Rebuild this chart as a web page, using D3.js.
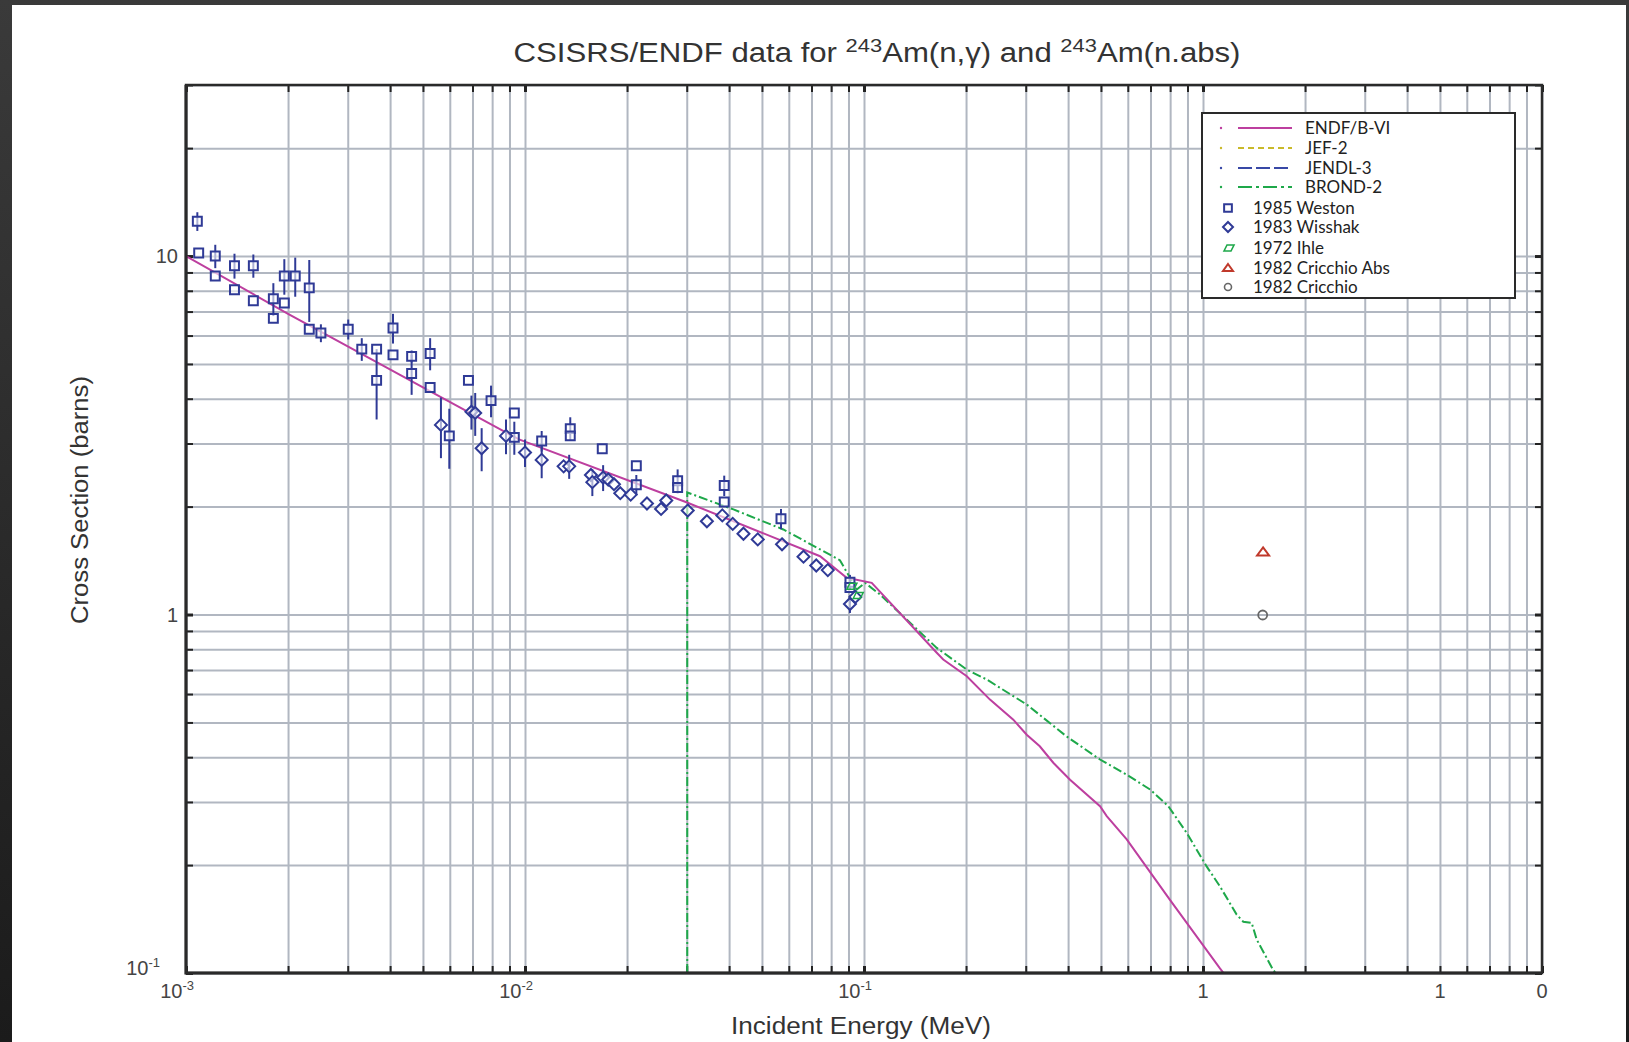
<!DOCTYPE html>
<html>
<head>
<meta charset="utf-8">
<script src="https://cdn.jsdelivr.net/npm/d3@7"></script>
<style>
  body { margin: 0; background: #2b2b2b; }
  svg { display: block; }
</style>
</head>
<body>
<div id="chart"></div>
<script>
// evaluated curves (energy in MeV, cross section in barns)
const endfE  = [0.001, 0.002, 0.003, 0.005, 0.0096, 0.0298, 0.0742, 0.0889, 0.1054, 0.1639, 0.1713, 0.201, 0.2353, 0.2757, 0.302, 0.330, 0.3617, 0.4053, 0.4968, 0.52, 0.5957, 0.799, 1.122, 1.15];
const endfXS = [10.0, 6.9, 5.6, 4.3, 3.08, 2.06, 1.454, 1.266, 1.226, 0.782, 0.749, 0.673, 0.579, 0.509, 0.462, 0.429, 0.386, 0.346, 0.292, 0.274, 0.236, 0.160, 0.103, 0.1];

const brondE  = [0.0301, 0.0301, 0.0412, 0.0578, 0.0849, 0.0952, 0.1007, 0.1115, 0.1639, 0.201, 0.230, 0.302, 0.396, 0.4968, 0.5957, 0.698, 0.790, 0.895, 1.026, 1.122, 1.257, 1.315, 1.392, 1.44, 1.61, 1.64];
const brondXS = [0.1, 2.19, 1.964, 1.727, 1.418, 1.174, 1.226, 1.137, 0.807, 0.702, 0.659, 0.561, 0.457, 0.394, 0.3575, 0.325, 0.292, 0.246, 0.198, 0.1744, 0.1455, 0.139, 0.138, 0.124, 0.102, 0.1];

// measurements
const westonE   = [1.08e-3, 1.09e-3, 1.22e-3, 1.22e-3, 1.39e-3, 1.39e-3, 1.58e-3, 1.58e-3, 1.81e-3, 1.81e-3, 1.95e-3, 1.95e-3, 2.10e-3, 2.31e-3, 2.31e-3, 2.50e-3, 3.01e-3, 3.30e-3, 3.65e-3, 3.65e-3, 4.08e-3, 4.08e-3, 4.63e-3, 4.63e-3, 5.25e-3, 5.25e-3, 5.98e-3, 6.81e-3, 7.94e-3, 9.3e-3, 9.3e-3, 1.12e-2, 1.36e-2, 1.36e-2, 1.69e-2, 2.13e-2, 2.13e-2, 2.82e-2, 2.82e-2, 3.87e-2, 3.87e-2, 5.69e-2, 9.09e-2, 9.09e-2];
const westonXS  = [12.5, 10.2, 10.0, 8.8, 9.4, 8.05, 9.4, 7.5, 7.6, 6.7, 8.8, 7.4, 8.8, 8.15, 6.25, 6.1, 6.25, 5.5, 5.5, 4.5, 6.3, 5.3, 5.25, 4.7, 5.35, 4.3, 3.15, 4.5, 3.95, 3.65, 3.12, 3.05, 3.3, 3.15, 2.9, 2.6, 2.3, 2.36, 2.26, 2.29, 2.06, 1.85, 1.23, 1.19];
const westonErr = [0.75, 0, 0.75, 0, 0.75, 0, 0.7, 0, 0.8, 0, 1.0, 0, 1.1, 1.6, 0, 0.35, 0.4, 0.4, 0, 1.0, 0.6, 0, 0.2, 0.6, 0.55, 0, 0.6, 0, 0.4, 0, 0.33, 0.2, 0.25, 0, 0, 0, 0.15, 0.18, 0, 0.15, 0, 0.12, 0.06, 0];

const wisshakE   = [5.65e-3, 6.95e-3, 7.13e-3, 7.45e-3, 8.79e-3, 1.0e-2, 1.12e-2, 1.30e-2, 1.35e-2, 1.565e-2, 1.58e-2, 1.70e-2, 1.76e-2, 1.83e-2, 1.91e-2, 2.05e-2, 2.29e-2, 2.52e-2, 2.61e-2, 3.02e-2, 3.44e-2, 3.82e-2, 4.10e-2, 4.41e-2, 4.86e-2, 5.73e-2, 6.63e-2, 7.23e-2, 7.82e-2, 9.09e-2, 9.43e-2];
const wisshakXS  = [3.38, 3.68, 3.65, 2.91, 3.15, 2.83, 2.70, 2.59, 2.59, 2.45, 2.34, 2.41, 2.38, 2.31, 2.18, 2.16, 2.04, 1.97, 2.08, 1.95, 1.82, 1.89, 1.79, 1.68, 1.62, 1.57, 1.45, 1.37, 1.33, 1.07, 1.12];
const wisshakErr = [0.65, 0.4, 0.5, 0.4, 0.35, 0.25, 0.3, 0, 0.2, 0, 0.2, 0.2, 0, 0, 0, 0, 0, 0, 0, 0, 0, 0, 0, 0, 0, 0, 0, 0, 0, 0.06, 0];

const ihleE  = [0.0915, 0.0955];
const ihleXS = [1.2, 1.13];

const cricchioAbsE  = [1.504];
const cricchioAbsXS = [1.49];
const cricchioE  = [1.50];
const cricchioXS = [0.997];

// axis labels
const xTickLabels = [
    {v: 1e-3, base: "10", sup: "-3"},
    {v: 1e-2, base: "10", sup: "-2"},
    {v: 1e-1, base: "10", sup: "-1"},
    {v: 1, base: "1", sup: ""},
    {v: 5, base: "1", sup: ""},
    {v: 10, base: "0", sup: ""}
];
const yTickLabels = [
    {v: 10, base: "10", sup: ""},
    {v: 1, base: "1", sup: ""},
    {v: 0.1, base: "10", sup: "-1"}
];

const legendLines = ["ENDF/B-VI", "JEF-2", "JENDL-3", "BROND-2"];
const legendMarks = ["1985 Weston", "1983 Wisshak", "1972 Ihle", "1982 Cricchio Abs", "1982 Cricchio"];

const WIDTH = 1629;
const HEIGHT = 1042;
const LEFT = 186, RIGHT = 1542, TOP = 85, BOTTOM = 973;

const C_ENDF = "#bd3f9f";
const C_JEF = "#c9b92a";
const C_JENDL = "#3848a6";
const C_BROND = "#1ea84a";
const C_NAVY = "#2f3a96";
const C_RED = "#c0392b";
const C_GRAY = "#666";
const C_GRID = "#b1b7c1";
const FONT = "'Liberation Sans', Arial, sans-serif";

const zip = (a, b, c) => a.map((v, i) => ({e: v, s: b[i], err: c ? c[i] : 0}));

function draw() {
    const svg = d3.select("#chart").append("svg")
        .attr("width", WIDTH).attr("height", HEIGHT);

    const defs = svg.append("defs");
    const grad = defs.append("linearGradient").attr("id", "frame").attr("x1", 0).attr("y1", 0).attr("x2", 0).attr("y2", 1);
    grad.append("stop").attr("offset", "0%").attr("stop-color", "#3a3a3a");
    grad.append("stop").attr("offset", "100%").attr("stop-color", "#1b1b1b");
    defs.append("clipPath").attr("id", "plotclip").append("rect")
        .attr("x", LEFT).attr("y", TOP).attr("width", RIGHT - LEFT).attr("height", BOTTOM - TOP);

    svg.append("rect").attr("width", WIDTH).attr("height", HEIGHT).attr("fill", "url(#frame)");
    svg.append("rect").attr("x", 12).attr("y", 5).attr("width", 1614).attr("height", HEIGHT - 5).attr("fill", "#fff");

    const x = d3.scaleLog().domain([1e-3, 10]).range([LEFT, RIGHT]);
    const y = d3.scaleLog().domain([0.1, 30]).range([BOTTOM, TOP]);

    const xGrid = [];
    for (let d = -3; d <= 0; d++) for (let k = 1; k <= 9; k++) xGrid.push(k * Math.pow(10, d));
    xGrid.push(10);
    const yGrid = [];
    for (let d = -1; d <= 0; d++) for (let k = 1; k <= 9; k++) yGrid.push(k * Math.pow(10, d));
    yGrid.push(10, 20, 30);

    // grid
    const gx = svg.append("g").attr("transform", `translate(0,${BOTTOM})`)
        .call(d3.axisBottom(x).tickValues(xGrid).tickSize(-(BOTTOM - TOP)).tickFormat(""));
    const gy = svg.append("g").attr("transform", `translate(${LEFT},0)`)
        .call(d3.axisLeft(y).tickValues(yGrid).tickSize(-(RIGHT - LEFT)).tickFormat(""));
    [gx, gy].forEach(g => {
        g.select(".domain").remove();
        g.selectAll("line").attr("stroke", C_GRID).attr("stroke-width", 2);
    });

    // inward ticks on all four sides
    const isMajor = v => Math.abs(Math.log10(v) - Math.round(Math.log10(v))) < 1e-6;
    const tickAxes = [
        [d3.axisBottom(x).tickValues(xGrid), `translate(0,${BOTTOM})`],
        [d3.axisTop(x).tickValues(xGrid), `translate(0,${TOP})`],
        [d3.axisLeft(y).tickValues(yGrid), `translate(${LEFT},0)`],
        [d3.axisRight(y).tickValues(yGrid), `translate(${RIGHT},0)`]
    ];
    tickAxes.forEach(([ax, tr]) => {
        const g = svg.append("g").attr("transform", tr).call(ax.tickSize(-7).tickFormat(""));
        g.select(".domain").remove();
        g.selectAll(".tick line").attr("stroke", "#222").attr("stroke-width", 2);
        g.selectAll(".tick").filter(d => isMajor(d)).select("line").attr("stroke-width", 3);
    });

    const plot = svg.append("g").attr("clip-path", "url(#plotclip)");
    const line = d3.line().x(d => x(d.e)).y(d => y(d.s));

    plot.append("path").datum(zip(brondE, brondXS))
        .attr("d", line).attr("fill", "none").attr("stroke", C_BROND)
        .attr("stroke-width", 2).attr("stroke-dasharray", "9,3,2,3");
    plot.append("path").datum(zip(endfE, endfXS))
        .attr("d", line).attr("fill", "none").attr("stroke", C_ENDF).attr("stroke-width", 2);

    // error bars
    const errData = zip(westonE, westonXS, westonErr).concat(zip(wisshakE, wisshakXS, wisshakErr)).filter(d => d.err > 0);
    plot.selectAll(".err").data(errData).join("line")
        .attr("x1", d => x(d.e)).attr("x2", d => x(d.e))
        .attr("y1", d => y(d.s + d.err)).attr("y2", d => y(d.s - d.err))
        .attr("stroke", C_NAVY).attr("stroke-width", 2);

    const square = d3.symbol().type(d3.symbolSquare).size(80);
    const diamond = "M0,-6L6,0L0,6L-6,0Z";
    const triangle = "M0,-5L6,3L-6,3Z";
    const skew = "M-4,3L-1,-3L6,-3L3,3Z";

    plot.selectAll(".weston").data(zip(westonE, westonXS)).join("path")
        .attr("transform", d => `translate(${x(d.e)},${y(d.s)})`)
        .attr("d", square()).attr("fill", "#fff").attr("fill-opacity", 0.6)
        .attr("stroke", C_NAVY).attr("stroke-width", 2);
    plot.selectAll(".wisshak").data(zip(wisshakE, wisshakXS)).join("path")
        .attr("transform", d => `translate(${x(d.e)},${y(d.s)})`)
        .attr("d", diamond).attr("fill", "#fff").attr("fill-opacity", 0.6)
        .attr("stroke", C_NAVY).attr("stroke-width", 2);
    plot.selectAll(".ihle").data(zip(ihleE, ihleXS)).join("path")
        .attr("transform", d => `translate(${x(d.e)},${y(d.s)})`)
        .attr("d", skew).attr("fill", "none").attr("stroke", C_BROND).attr("stroke-width", 1.5);
    plot.selectAll(".cabs").data(zip(cricchioAbsE, cricchioAbsXS)).join("path")
        .attr("transform", d => `translate(${x(d.e)},${y(d.s)})`)
        .attr("d", triangle).attr("fill", "none").attr("stroke", C_RED).attr("stroke-width", 2);
    plot.selectAll(".cc").data(zip(cricchioE, cricchioXS)).join("circle")
        .attr("cx", d => x(d.e)).attr("cy", d => y(d.s)).attr("r", 4.5)
        .attr("fill", "none").attr("stroke", C_GRAY).attr("stroke-width", 1.8);

    // frame
    svg.append("rect").attr("x", LEFT).attr("y", TOP).attr("width", RIGHT - LEFT).attr("height", BOTTOM - TOP)
        .attr("fill", "none").attr("stroke", "#2a2a2a").attr("stroke-width", 2.5);
    svg.append("path").attr("d", `M${LEFT},${TOP}V${BOTTOM}H${RIGHT}`)
        .attr("fill", "none").attr("stroke", "#2a2a2a").attr("stroke-width", 3);

    // tick labels
    const tl = svg.append("g").attr("font-family", FONT).attr("font-size", 20).attr("fill", "#444");
    xTickLabels.forEach(t => {
        const txt = tl.append("text").attr("y", 998)
            .attr("x", t.sup ? x(t.v) + 8 : x(t.v))
            .attr("text-anchor", t.sup ? "end" : "middle");
        txt.append("tspan").text(t.base);
        if (t.sup) txt.append("tspan").attr("dy", -8).attr("font-size", 13).text(t.sup);
    });
    yTickLabels.forEach(t => {
        const txt = tl.append("text")
            .attr("y", t.sup ? y(t.v) + 2 : y(t.v) + 7)
            .attr("x", t.sup ? 160 : 178).attr("text-anchor", "end");
        txt.append("tspan").text(t.base);
        if (t.sup) txt.append("tspan").attr("dy", -8).attr("font-size", 13).text(t.sup);
    });

    // titles
    const title = svg.append("text").attr("x", 877).attr("y", 62).attr("text-anchor", "middle")
        .attr("font-family", FONT).attr("font-size", 27).attr("fill", "#333")
        .attr("textLength", 727).attr("lengthAdjust", "spacingAndGlyphs");
    title.append("tspan").text("CSISRS/ENDF data for ");
    title.append("tspan").attr("dy", -10).attr("font-size", 19).text("243");
    title.append("tspan").attr("dy", 10).text("Am(n,γ) and ");
    title.append("tspan").attr("dy", -10).attr("font-size", 19).text("243");
    title.append("tspan").attr("dy", 10).text("Am(n.abs)");

    svg.append("text").attr("x", 861).attr("y", 1034).attr("text-anchor", "middle")
        .attr("font-family", FONT).attr("font-size", 23).attr("fill", "#333")
        .attr("textLength", 260).attr("lengthAdjust", "spacingAndGlyphs")
        .text("Incident Energy (MeV)");
    svg.append("text").attr("transform", "translate(88,500) rotate(-90)").attr("text-anchor", "middle")
        .attr("font-family", FONT).attr("font-size", 23).attr("fill", "#333")
        .attr("textLength", 248).attr("lengthAdjust", "spacingAndGlyphs")
        .text("Cross Section (barns)");

    // legend
    const lg = svg.append("g").attr("font-family", "Lato, 'Open Sans', sans-serif").attr("font-size", 17).attr("fill", "#222");
    lg.append("rect").attr("x", 1202).attr("y", 113).attr("width", 313).attr("height", 185)
        .attr("fill", "#fff").attr("stroke", "#2a2a2a").attr("stroke-width", 2);
    const lineStyles = [[C_ENDF, null], [C_JEF, "6,4"], [C_JENDL, "14,4"], [C_BROND, "14,4,3,4"]];
    const lineRows = [128, 148, 168, 187];
    legendLines.forEach((name, i) => {
        const yy = lineRows[i];
        lg.append("circle").attr("cx", 1221).attr("cy", yy).attr("r", 1.2).attr("fill", lineStyles[i][0]);
        lg.append("line").attr("x1", 1238).attr("x2", 1292).attr("y1", yy).attr("y2", yy)
            .attr("stroke", lineStyles[i][0]).attr("stroke-width", 2)
            .attr("stroke-dasharray", lineStyles[i][1]);
        lg.append("text").attr("x", 1305).attr("y", yy + 6).text(name);
    });
    const markRows = [208, 227, 248, 268, 287];
    const markShapes = [
        g => g.append("path").attr("d", d3.symbol().type(d3.symbolSquare).size(60)()).attr("fill", "none").attr("stroke", C_NAVY).attr("stroke-width", 2),
        g => g.append("path").attr("d", "M0,-5L5,0L0,5L-5,0Z").attr("fill", "none").attr("stroke", C_NAVY).attr("stroke-width", 2),
        g => g.append("path").attr("d", skew).attr("fill", "none").attr("stroke", C_BROND).attr("stroke-width", 1.6),
        g => g.append("path").attr("d", "M0,-4L5,3L-5,3Z").attr("fill", "none").attr("stroke", C_RED).attr("stroke-width", 2),
        g => g.append("circle").attr("r", 3.5).attr("fill", "none").attr("stroke", C_GRAY).attr("stroke-width", 1.6)
    ];
    legendMarks.forEach((name, i) => {
        const yy = markRows[i];
        markShapes[i](lg.append("g").attr("transform", `translate(1228,${yy})`));
        lg.append("text").attr("x", 1253).attr("y", yy + 6).text(name);
    });
}

draw();
</script>
</body>
</html>
